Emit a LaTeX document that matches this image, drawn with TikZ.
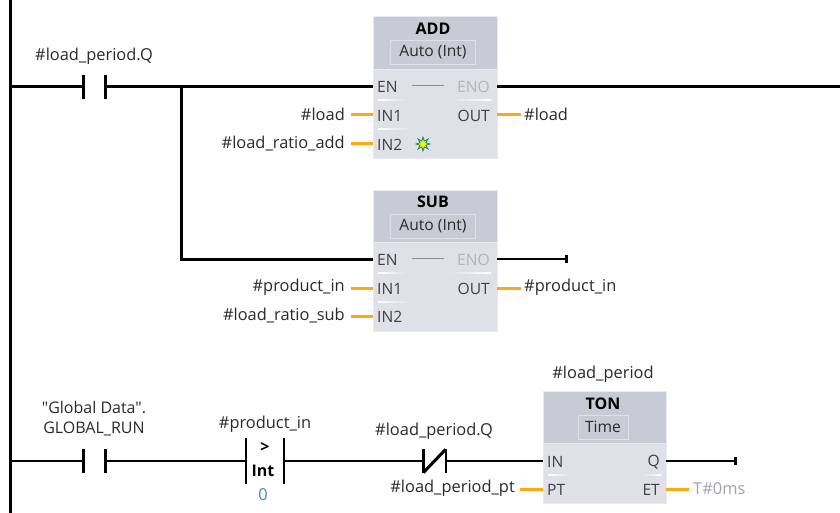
\documentclass[tikz,border=0pt]{standalone}
\usepackage{fontspec}
\setmainfont{Open Sans}
\newfontfamily\plainquote{Open Sans}
\usetikzlibrary{shapes.geometric}
\definecolor{blockbody}{HTML}{DFE0E8}
\definecolor{blockhead}{HTML}{C8CAD6}
\definecolor{blockedge}{HTML}{E9EAF0}
\definecolor{pinorange}{HTML}{FFA812}
\definecolor{pingrey}{HTML}{B4B5BC}
\definecolor{labeltext}{HTML}{2A2A2A}
\definecolor{constblue}{HTML}{4A7FD0}
\tikzset{
  lbl/.style={font=\fontsize{16.4}{18}\selectfont, text=labeltext, inner sep=0pt},
  tag/.style={lbl, yshift=-1.5pt},
  pin/.style={lbl, font=\fontsize{15.6}{18}\selectfont, text=black!75},
  title/.style={lbl, font=\fontsize{16}{18}\selectfont\bfseries, text=black},
  body/.style={fill=blockbody, draw=blockedge, minimum width=124, inner sep=0pt},
  head/.style={fill=blockhead, draw=blockedge, minimum width=124, inner sep=0pt},
  typebox/.style={lbl, font=\fontsize{15.6}{18}\selectfont, draw=blockbody, fill=blockhead, minimum height=24, inner sep=0pt},
  contact/.style={minimum width=22, minimum height=23, inner sep=0pt},
  bar/.style={line width=3pt},
  wire/.style={line width=3pt},
  thinwire/.style={line width=2pt},
  stub/.style={line width=3pt, color=pinorange},
  sepl/.style={left color=white, right color=blockbody},
  sepr/.style={left color=blockbody, right color=white},
}
\begin{document}
\begin{tikzpicture}[x=1pt,y=-1pt]
  \useasboundingbox[fill=white] (0,0) rectangle (840,513);

  % power rail
  \coordinate (railtop) at (10,0);
  \coordinate (railbot) at (10,513);
  \draw[line width=3pt] (railtop) -- (railbot);

  % ADD block
  \node[body, minimum height=142] (add) at (435,87) {};
  \node[head, minimum height=53, anchor=north] (addhead) at (add.north) {};
  \node[title] (addname) at (433,29) {ADD};
  \node[typebox, minimum width=85] (addtype) at (433,52) {Auto (Int)};
  \node[pin, anchor=west] (addEN) at (377,87) {EN};
  \node[pin, anchor=west] (addIN1) at (377,116) {IN1};
  \node[pin, anchor=west] (addIN2) at (377,145) {IN2};
  \node[pin, anchor=east, text=pingrey] (addENO) at (490,87) {ENO};
  \node[pin, anchor=east] (addOUT) at (490,116) {OUT};
  \draw[black!45] (412,85.5) -- (444,85.5);
  \shade[sepl] (378,99.5) rectangle (408,100.5);
  \shade[sepr] (448,99.5) rectangle (491,100.5);
  \shade[sepl] (378,128.5) rectangle (412,129.5);
  \node[star, star points=8, star point ratio=2.2, minimum size=14, inner sep=0pt,
        fill=yellow, draw=teal, line width=0.7pt] (addstar) at (423,144) {};

  % SUB block
  \node[body, minimum height=141] (sub) at (435,260.5) {};
  \node[head, minimum height=52, anchor=north] (subhead) at (sub.north) {};
  \node[title] (subname) at (433,202) {SUB};
  \node[typebox, minimum width=85] (subtype) at (433,226) {Auto (Int)};
  \node[pin, anchor=west] (subEN) at (377,260) {EN};
  \node[pin, anchor=west] (subIN1) at (377,289) {IN1};
  \node[pin, anchor=west] (subIN2) at (377,317) {IN2};
  \node[pin, anchor=east, text=pingrey] (subENO) at (490,260) {ENO};
  \node[pin, anchor=east] (subOUT) at (490,289) {OUT};
  \draw[black!45] (412,258.5) -- (444,258.5);
  \shade[sepl] (378,272.5) rectangle (408,273.5);
  \shade[sepr] (448,272.5) rectangle (491,273.5);
  \shade[sepl] (378,301.5) rectangle (412,302.5);

  % TON block
  \node[body, minimum width=123, minimum height=112] (ton) at (604.5,447) {};
  \node[head, minimum width=123, minimum height=52, anchor=north] (tonhead) at (ton.north) {};
  \node[title] (tonname) at (603,404) {TON};
  \node[typebox, minimum width=50] (tontype) at (603,427) {Time};
  \node[pin, anchor=west] (tonIN) at (547,462) {IN};
  \node[pin, anchor=west] (tonPT) at (547,490) {PT};
  \node[pin, anchor=east] (tonQ) at (660,462) {Q};
  \node[pin, anchor=east] (tonET) at (660,490) {ET};
  \shade[sepl] (548,474.5) rectangle (572,475.5);
  \shade[sepr] (642,474.5) rectangle (661,475.5);

  % contacts
  \node[contact] (loadq) at (94.5,87) {};
  \node[contact] (run) at (94.5,461) {};
  \node[contact, minimum width=38, minimum height=45] (cmp) at (265,461) {};
  \node[contact] (nc) at (434.5,461) {};
  \foreach \c in {loadq,run} {
    \draw[bar] (\c.north west) -- (\c.south west);
    \draw[bar] (\c.north east) -- (\c.south east);
  }
  \draw[line width=2pt] (cmp.north west) -- (cmp.south west);
  \draw[line width=2pt] (cmp.north east) -- (cmp.south east);
  \draw[line width=3pt] (nc.north west) -- (nc.south west);
  \draw[line width=2pt] (nc.north east) -- (nc.south east);
  \draw[line width=3pt] (nc.south west) -- (nc.north east);
  \node[title] (cmpop) at (265,447) {>};
  \node[title] (cmptype) at (263,471) {Int};
  \node[lbl, text=constblue] (cmpval) at (263,495) {0};

  % labels
  \node[tag] (loadqlbl) at (94,55) {\#load\_period.Q};
  \node[tag, align=center, font=\fontsize{16}{20}\selectfont\plainquote] (runlbl) at (94,417) {"Global Data".\\GLOBAL\_RUN};
  \node[tag] (cmplbl) at (265,423) {\#product\_in};
  \node[tag] (nclbl) at (434,430) {\#load\_period.Q};
  \node[tag] (tonlbl) at (603,373) {\#load\_period};
  \node[tag, anchor=east] (in1a) at (345,113) {\#load};
  \node[tag, anchor=east] (in2a) at (345,142) {\#load\_ratio\_add};
  \node[tag, anchor=east] (in1s) at (345,286) {\#product\_in};
  \node[tag, anchor=east] (in2s) at (345,314) {\#load\_ratio\_sub};
  \node[tag, anchor=east] (ptlbl) at (515,487) {\#load\_period\_pt};
  \node[tag, anchor=west] (outa) at (524,113) {\#load};
  \node[tag, anchor=west] (outs) at (524,286) {\#product\_in};
  \node[tag, anchor=west, text=pingrey!90!black] (etlbl) at (693,487) {T\#0ms};

  % wires
  \coordinate (rail1) at (10,87);
  \coordinate (rail3) at (10,461);
  \coordinate (branch) at (181,87);
  \coordinate (rightend) at (840,87);
  \coordinate (subend) at (566,259);
  \coordinate (qend) at (735,461);
  \coordinate (addin) at (add.west |- rail1);
  \coordinate (addout) at (add.east |- rail1);
  \coordinate (subin) at (sub.west |- subend);
  \coordinate (subout) at (sub.east |- subend);
  \coordinate (tonin) at (ton.west |- rail3);
  \coordinate (tonout) at (ton.east |- rail3);
  \draw[wire] (rail1) -- (loadq.west);
  \draw[wire] (loadq.east) -- (addin);
  \draw[wire] (addout) -- (rightend);
  \draw[wire] (branch) -- (branch |- subin) -- (subin);
  \draw[thinwire] (subout) -- (subend);
  \draw[line width=3pt] (subend) ++(0,-4) -- ++(0,8);
  \draw[thinwire] (rail3) -- (run.west);
  \draw[thinwire] (run.east) -- (cmp.west);
  \draw[thinwire] (cmp.east) -- (nc.west);
  \draw[thinwire] (nc.east) -- (tonin);
  \draw[thinwire] (tonout) -- (qend);
  \draw[line width=3pt] (qend) ++(0,-4) -- ++(0,8);

  % pin stubs
  \draw[stub] (351,115) -- (add.west |- 0,115);
  \draw[stub] (351,144) -- (add.west |- 0,144);
  \draw[stub] (add.east |- 0,115) -- (521,115);
  \draw[stub] (351,288) -- (sub.west |- 0,288);
  \draw[stub] (351,316) -- (sub.west |- 0,316);
  \draw[stub] (sub.east |- 0,288) -- (521,288);
  \draw[stub] (520,489) -- (ton.west |- 0,489);
  \draw[stub] (ton.east |- 0,489) -- (689,489);
\end{tikzpicture}
\end{document}
